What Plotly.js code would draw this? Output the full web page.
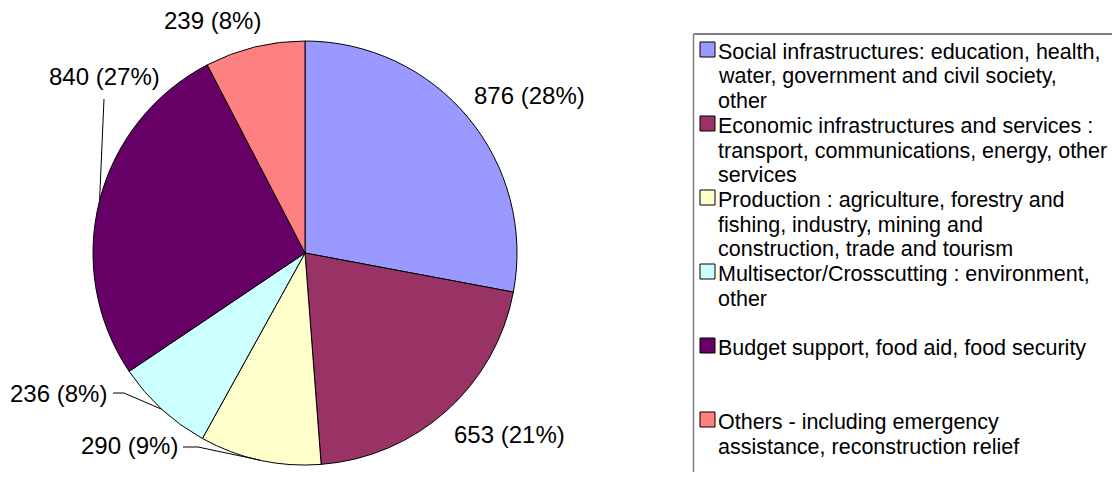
<!DOCTYPE html>
<html>
<head>
<meta charset="utf-8">
<script src="https://cdn.plot.ly/plotly-3.0.1.min.js"></script>
<style>html,body{margin:0;padding:0;background:#fff;}#chart{width:1112px;height:481px;}</style>
</head>
<body>
<div id="chart"></div>
<script>
// ---- data ----
const categories = [
  "Social infrastructures: education, health,\nwater, government and civil society,\nother",
  "Economic infrastructures and services :\ntransport, communications, energy, other\nservices",
  "Production : agriculture, forestry and\nfishing, industry, mining and\nconstruction, trade and tourism",
  "Multisector/Crosscutting : environment,\nother",
  "Budget support, food aid, food security",
  "Others - including emergency\nassistance, reconstruction relief"
];
const values = [876, 653, 290, 236, 840, 239];
const colors = ["#9999FF", "#993366", "#FFFFCC", "#CCFFFF", "#660066", "#FF8080"];

// ---- layout helpers (pixel positions) ----
const W = 1112, H = 481;
const px = x => x / W;
const py = y => 1 - y / H;
const cx = 305, cy = 253, R = 212;

const total = values.reduce((a, b) => a + b, 0);
const pctText = values.map(v => v + " (" + Math.round(100 * v / total) + "%)");

// label centre positions (pixels)
const labelPos = [[529, 95], [509, 434], [129, 445], [58, 393], [104, 77], [212, 21]];
// leader lines: [label index, start point near text, elbow point]
const leaders = [
  [4, [104, 99], null],
  [3, [113, 393], [124, 393]],
  [2, [183, 447], [198, 447]]
];

function midAngle(i) {
  let before = 0;
  for (let k = 0; k < i; k++) before += values[k];
  return ((before + values[i] / 2) / total) * 2 * Math.PI;
}
function edgePoint(i) {
  const a = midAngle(i);
  return [cx + R * Math.sin(a), cy - R * Math.cos(a)];
}

const font = "Liberation Sans, Arial, sans-serif";
const annotations = [];
const shapes = [];

values.forEach((v, i) => {
  annotations.push({
    xref: "paper", yref: "paper", x: px(labelPos[i][0]), y: py(labelPos[i][1]),
    xanchor: "center", yanchor: "middle", showarrow: false,
    text: pctText[i], font: {family: font, size: 24, color: "#000"}
  });
});

leaders.forEach(([i, s, e]) => {
  const p = edgePoint(i);
  let d = "M " + px(s[0]) + "," + py(s[1]);
  if (e) d += " L " + px(e[0]) + "," + py(e[1]);
  d += " L " + px(p[0]) + "," + py(p[1]);
  shapes.push({type: "path", xref: "paper", yref: "paper", path: d, line: {color: "#000", width: 1}});
});

// legend frame
shapes.push({type: "line", xref: "paper", yref: "paper", x0: px(693.5), y0: py(34), x1: px(1115), y1: py(34), line: {color: "#000", width: 1}});
shapes.push({type: "line", xref: "paper", yref: "paper", x0: px(693.5), y0: py(34), x1: px(693.5), y1: py(472), line: {color: "#808080", width: 1.5}});

// legend entries
const slot = 74, lineH = 24.5, firstY = 52;
categories.forEach((c, i) => {
  const lines = c.split("\n");
  const y0 = firstY + i * slot;
  shapes.push({
    type: "rect", xref: "paper", yref: "paper",
    x0: px(700), x1: px(715), y0: py(y0 - 10), y1: py(y0 + 5),
    fillcolor: colors[i], line: {color: "#000", width: 1}
  });
  lines.forEach((t, j) => {
    annotations.push({
      xref: "paper", yref: "paper", x: px(716), y: py(y0 + j * lineH),
      xanchor: "left", yanchor: "middle", showarrow: false,
      text: t, font: {family: font, size: 21.5, color: "#000"}
    });
  });
});

const trace = {
  type: "pie",
  labels: categories.map(c => c.replace(/\n/g, " ")),
  values: values,
  sort: false,
  direction: "clockwise",
  rotation: 0,
  marker: {colors: colors, line: {color: "#000", width: 1}},
  textinfo: "none",
  hoverinfo: "label+value+percent",
  domain: {x: [px(cx - R), px(cx + R)], y: [py(cy + R), py(cy - R)]},
  showlegend: false
};

Plotly.newPlot("chart", [trace], {
  width: W, height: H,
  margin: {l: 0, r: 0, t: 0, b: 0},
  paper_bgcolor: "#fff", plot_bgcolor: "#fff",
  showlegend: false,
  annotations: annotations,
  shapes: shapes,
  font: {family: font}
}, {displayModeBar: false, staticPlot: true});
</script>
</body>
</html>
